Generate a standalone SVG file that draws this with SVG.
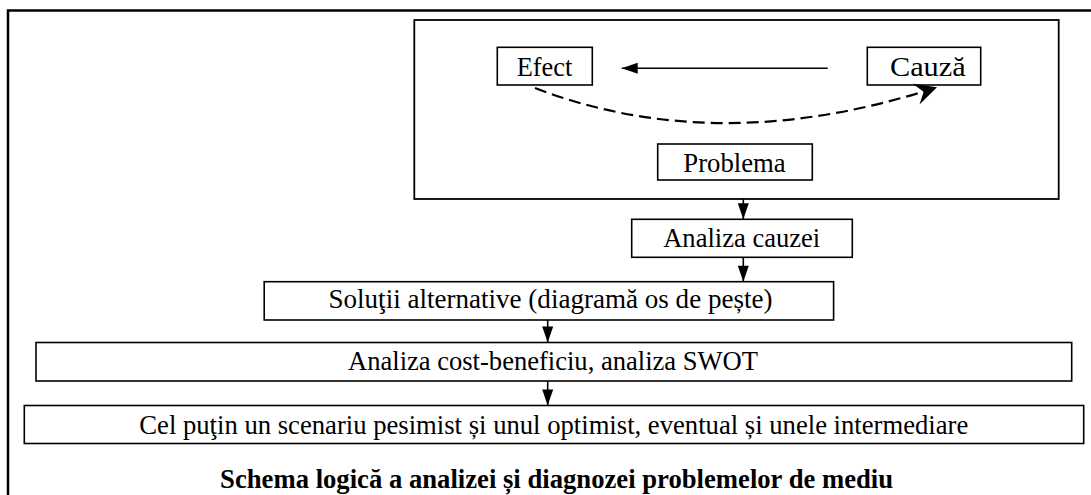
<svg xmlns="http://www.w3.org/2000/svg" width="1091" height="495" viewBox="0 0 1091 495">
  <style>
    .box { fill: #ffffff; stroke: #000000; stroke-width: 1.6; }
    .lbl { font-family: "Liberation Serif", "Times New Roman", serif; font-size: 28px; fill: #000000; text-anchor: middle; }
    .title { font-family: "Liberation Serif", "Times New Roman", serif; font-size: 27px; font-weight: bold; fill: #000000; text-anchor: middle; }
    .conn { fill: none; stroke: #000000; stroke-width: 1.6; }
    .dash { fill: none; stroke: #000000; stroke-width: 2.2; stroke-dasharray: 12 6; }
  </style>
  <defs>
    <marker id="tri" markerUnits="userSpaceOnUse" markerWidth="16" markerHeight="11" refX="16" refY="5.5" orient="auto" overflow="visible">
      <path d="M0,0 L16,5.5 L0,11 z" fill="#000000"/>
    </marker>
    <marker id="stealth" markerUnits="userSpaceOnUse" markerWidth="22" markerHeight="22" refX="22" refY="11" orient="auto" overflow="visible">
      <path d="M0,0 L22,11 L0,22 L8,11 z" fill="#000000"/>
    </marker>
  </defs>

  <g id="frame">
    <path d="M8,495 L8,10.5 L1091,10.5" fill="none" stroke="#000000" stroke-width="2.5"/>
  </g>

  <g id="problem-area">
    <rect x="414.3" y="20" width="644.4" height="179" fill="none" stroke="#000000" stroke-width="1.8"/>
  </g>

  <g id="node-efect">
    <rect class="box" x="497.3" y="47.3" width="95" height="37.7"/>
    <text class="lbl" x="544.5" y="76" textLength="55.6" lengthAdjust="spacingAndGlyphs">Efect</text>
  </g>

  <g id="node-cauza">
    <rect class="box" x="867.3" y="47.3" width="113.4" height="37.7"/>
    <text class="lbl" x="927.8" y="76" textLength="75.7" lengthAdjust="spacingAndGlyphs">Cauză</text>
  </g>

  <g id="node-problema">
    <rect class="box" x="657.7" y="144" width="154.6" height="36"/>
    <text class="lbl" x="734.5" y="171.7" textLength="102.4" lengthAdjust="spacingAndGlyphs">Problema</text>
  </g>

  <g id="node-analiza-cauzei">
    <rect class="box" x="631.7" y="219.3" width="220.6" height="38"/>
    <text class="lbl" x="741.7" y="246.7" textLength="157" lengthAdjust="spacingAndGlyphs">Analiza cauzei</text>
  </g>

  <g id="node-solutii">
    <rect class="box" x="264.2" y="281.7" width="569.4" height="38.3"/>
    <text class="lbl" x="550.5" y="308.4" textLength="444" lengthAdjust="spacingAndGlyphs">Soluţii alternative (diagramă os de pește)</text>
  </g>

  <g id="node-analiza-cost">
    <rect class="box" x="36" y="342.5" width="1035.7" height="38.5"/>
    <text class="lbl" x="553" y="370" textLength="410" lengthAdjust="spacingAndGlyphs">Analiza cost-beneficiu, analiza SWOT</text>
  </g>

  <g id="node-scenarii">
    <rect class="box" x="24.3" y="405.5" width="1059.4" height="38"/>
    <text class="lbl" x="553.8" y="434.3" textLength="829" lengthAdjust="spacingAndGlyphs">Cel puţin un scenariu pesimist și unul optimist, eventual și unele intermediare</text>
  </g>

  <g id="caption">
    <text class="title" x="556.6" y="488.3" textLength="673" lengthAdjust="spacingAndGlyphs">Schema logică a analizei și diagnozei problemelor de mediu</text>
  </g>

  <g id="connectors">
    <line class="conn" x1="827.7" y1="68.3" x2="621.7" y2="68.3" marker-end="url(#tri)"/>
    <path class="dash" d="M535,88 Q718,158.5 937,87.3" marker-end="url(#stealth)"/>
    <line class="conn" x1="743.3" y1="199" x2="743.3" y2="219.3" marker-end="url(#tri)"/>
    <line class="conn" x1="743.3" y1="257.3" x2="743.3" y2="281.7" marker-end="url(#tri)"/>
    <line class="conn" x1="547.7" y1="320" x2="547.7" y2="342.5" marker-end="url(#tri)"/>
    <line class="conn" x1="547.7" y1="381" x2="547.7" y2="405.5" marker-end="url(#tri)"/>
  </g>
</svg>
